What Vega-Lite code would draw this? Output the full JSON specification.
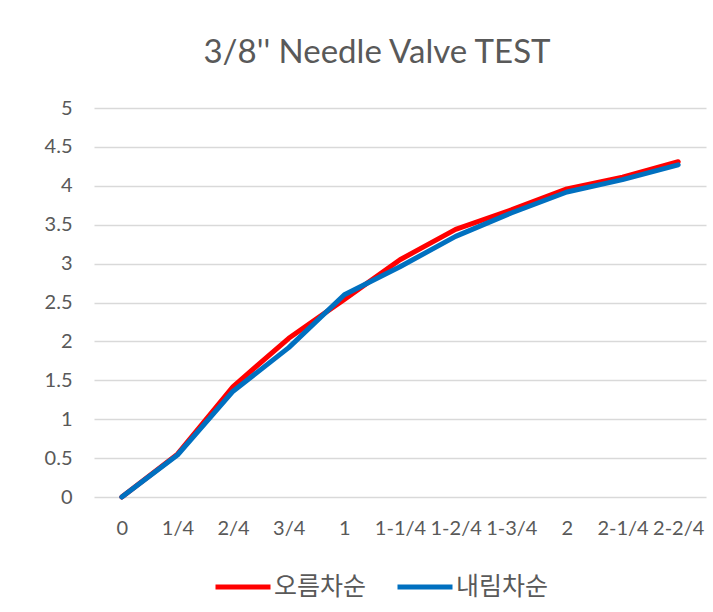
{
  "$schema": "https://vega.github.io/schema/vega-lite/v6.json",
  "autosize": "none",
  "width": 612,
  "height": 389,
  "padding": {"left": 94, "top": 108, "right": 7, "bottom": 115},
  "background": "white",
  "title": {
    "text": "3/8'' Needle Valve TEST",
    "fontSize": 33,
    "font": "Lato",
    "fontWeight": "normal",
    "color": "#595959",
    "anchor": "middle",
    "dx": -23,
    "offset": 28
  },
  "data": {
    "values": [
      {"x": "0", "series": "오름차순", "value": 0},
      {"x": "1/4", "series": "오름차순", "value": 0.55},
      {"x": "2/4", "series": "오름차순", "value": 1.42},
      {"x": "3/4", "series": "오름차순", "value": 2.04},
      {"x": "1", "series": "오름차순", "value": 2.54},
      {"x": "1-1/4", "series": "오름차순", "value": 3.05},
      {"x": "1-2/4", "series": "오름차순", "value": 3.44},
      {"x": "1-3/4", "series": "오름차순", "value": 3.69},
      {"x": "2", "series": "오름차순", "value": 3.96},
      {"x": "2-1/4", "series": "오름차순", "value": 4.11},
      {"x": "2-2/4", "series": "오름차순", "value": 4.31},
      {"x": "0", "series": "내림차순", "value": 0},
      {"x": "1/4", "series": "내림차순", "value": 0.54},
      {"x": "2/4", "series": "내림차순", "value": 1.36},
      {"x": "3/4", "series": "내림차순", "value": 1.92},
      {"x": "1", "series": "내림차순", "value": 2.6},
      {"x": "1-1/4", "series": "내림차순", "value": 2.96},
      {"x": "1-2/4", "series": "내림차순", "value": 3.35},
      {"x": "1-3/4", "series": "내림차순", "value": 3.65},
      {"x": "2", "series": "내림차순", "value": 3.92},
      {"x": "2-1/4", "series": "내림차순", "value": 4.08},
      {"x": "2-2/4", "series": "내림차순", "value": 4.27}
    ]
  },
  "mark": {"type": "line", "strokeWidth": 5, "strokeCap": "round", "strokeJoin": "round"},
  "encoding": {
    "x": {
      "field": "x",
      "type": "ordinal",
      "sort": ["0", "1/4", "2/4", "3/4", "1", "1-1/4", "1-2/4", "1-3/4", "2", "2-1/4", "2-2/4"],
      "scale": {"type": "point", "padding": 0.5},
      "axis": {
        "title": null,
        "labelAngle": 0,
        "labelFontSize": 20,
        "labelFont": "Lato",
        "labelColor": "#595959",
        "labelPadding": 21,
        "ticks": false,
        "domain": false,
        "grid": false,
        "labelOverlap": false
      }
    },
    "y": {
      "field": "value",
      "type": "quantitative",
      "scale": {"domain": [0, 5], "nice": false, "zero": true},
      "axis": {
        "title": null,
        "values": [0, 0.5, 1, 1.5, 2, 2.5, 3, 3.5, 4, 4.5, 5],
        "format": "~g",
        "labelFontSize": 20,
        "labelFont": "Lato",
        "labelColor": "#595959",
        "labelPadding": 22,
        "ticks": false,
        "domain": false,
        "gridColor": "#D9D9D9",
        "gridWidth": 1.5
      }
    },
    "color": {
      "field": "series",
      "type": "nominal",
      "scale": {"domain": ["오름차순", "내림차순"], "range": ["#FF0000", "#0070C0"]},
      "legend": {
        "title": null,
        "orient": "none",
        "direction": "horizontal",
        "legendX": 119,
        "legendY": 449,
        "symbolType": "stroke",
        "symbolStrokeWidth": 5,
        "symbolSize": 3025,
        "labelFont": "Noto Sans CJK KR",
        "labelFontSize": 25,
        "labelColor": "#595959",
        "labelOffset": 1,
        "columnPadding": 20
      }
    },
    "order": {"field": "series", "sort": "descending"}
  },
  "config": {"view": {"stroke": null}}
}
